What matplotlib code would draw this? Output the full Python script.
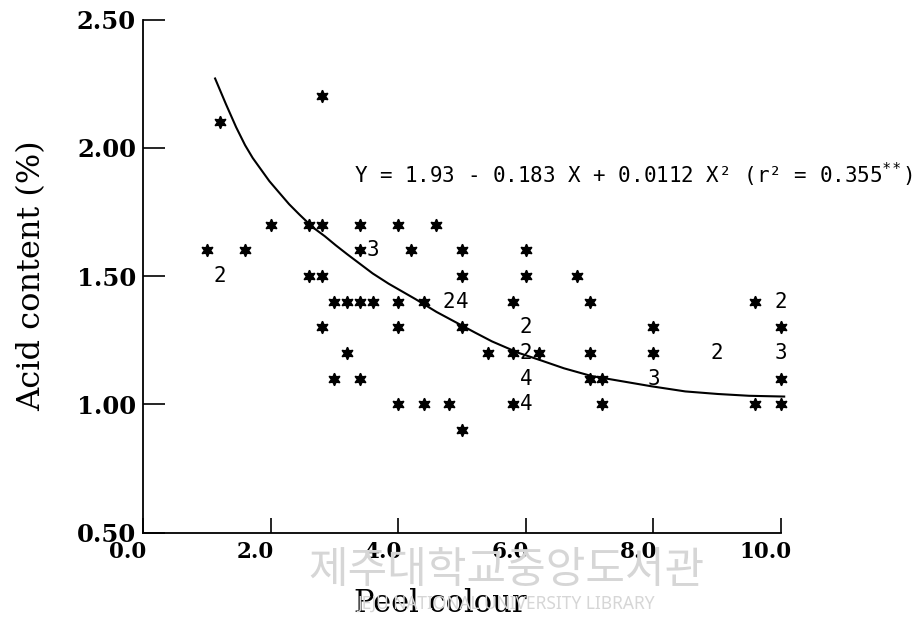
import matplotlib
matplotlib.use("Agg")
import matplotlib.pyplot as plt
import matplotlib.transforms as mtransforms

# single observations (drawn as asterisks)
single_x = [1.0, 1.6, 1.2, 2.8, 2.0, 2.6, 2.8, 3.4, 4.0, 4.6,
            3.4, 4.2, 5.0, 6.0,
            2.6, 2.8, 5.0, 6.0, 6.8,
            3.0, 3.2, 3.4, 3.6, 4.0, 4.4, 5.8, 7.0, 9.6,
            2.8, 4.0, 5.0, 8.0, 10.0,
            3.2, 5.4, 5.8, 6.2, 7.0, 8.0,
            3.0, 3.4, 7.0, 7.2, 10.0,
            4.0, 4.4, 4.8, 5.8, 7.2, 9.6, 10.0,
            5.0]
single_y = [1.6, 1.6, 2.1, 2.2, 1.7, 1.7, 1.7, 1.7, 1.7, 1.7,
            1.6, 1.6, 1.6, 1.6,
            1.5, 1.5, 1.5, 1.5, 1.5,
            1.4, 1.4, 1.4, 1.4, 1.4, 1.4, 1.4, 1.4, 1.4,
            1.3, 1.3, 1.3, 1.3, 1.3,
            1.2, 1.2, 1.2, 1.2, 1.2, 1.2,
            1.1, 1.1, 1.1, 1.1, 1.1,
            1.0, 1.0, 1.0, 1.0, 1.0, 1.0, 1.0,
            0.9]

# repeated observations (drawn as the count)
multi_x = [1.2, 3.6, 4.8, 5.0, 10.0, 6.0, 6.0, 9.0, 10.0, 6.0, 8.0, 6.0]
multi_y = [1.5, 1.6, 1.4, 1.4, 1.4, 1.3, 1.2, 1.2, 1.2, 1.1, 1.1, 1.0]
multi_n = [2, 3, 2, 4, 2, 2, 2, 2, 3, 4, 3, 4]

# fitted curve
curve_x = [1.13, 1.3, 1.46, 1.6, 1.72, 1.85, 1.98, 2.1, 2.29, 2.45, 2.66,
           2.85, 3.02, 3.2, 3.44, 3.6, 3.85, 4.27, 4.6, 4.90, 5.2, 5.47,
           5.89, 6.25, 6.6, 7.03, 7.5, 7.97, 8.5, 9.01, 9.5, 10.05]
curve_y = [2.27, 2.17, 2.08, 2.01, 1.96, 1.915, 1.87, 1.835, 1.78, 1.74, 1.69,
           1.655, 1.62, 1.585, 1.54, 1.51, 1.47, 1.41, 1.36, 1.32, 1.28, 1.245,
           1.20, 1.17, 1.14, 1.11, 1.09, 1.07, 1.05, 1.04, 1.033, 1.03]

xticks = [0, 2, 4, 6, 8, 10]
xtick_labels = ["0.0", "2.0", "4.0", "6.0", "8.0", "10.0"]
yticks = [0.5, 1.0, 1.5, 2.0, 2.5]
ytick_labels = ["0.50", "1.00", "1.50", "2.00", "2.50"]

fig = plt.figure(figsize=(9.17, 6.32), dpi=100)
ax = fig.add_axes([143 / 917, (632 - 532.5) / 632, 638 / 917, 513 / 632])

# library watermark
fig.text(0.552, 0.097, "제주대학교중앙도서관", family="Noto Sans CJK KR",
         fontsize=31, color="#d6d6d6", ha="center", va="center", zorder=0)
fig.text(0.552, 0.045, "JEJU NATIONAL UNIVERSITY LIBRARY", family="Noto Sans",
         fontsize=12.5, color="#d6d6d6", ha="center", va="center", zorder=0)

ax.plot(curve_x, curve_y, color="black", lw=1.5, clip_on=False)
ax.plot(single_x, single_y, linestyle="none", marker=(6, 1, 0), ms=9,
        color="black", clip_on=False)
for x, y, n in zip(multi_x, multi_y, multi_n):
    ax.text(x, y, str(n), family="DejaVu Sans Mono", fontsize=15,
            ha="center", va="center")

ax.text(3.31, 1.893, "Y = 1.93 - 0.183 X + 0.0112 X² (r² = 0.355$^{**}$)",
        family="DejaVu Sans Mono", fontsize=15, ha="left", va="center",
        clip_on=False)

ax.set_xlim(0, 10)
ax.set_ylim(0.5, 2.5)
for s in ["top", "right"]:
    ax.spines[s].set_visible(False)
for s in ["left", "bottom"]:
    ax.spines[s].set_linewidth(1.3)

ax.set_xticks(xticks)
ax.set_xticklabels(xtick_labels, family="DejaVu Serif", fontweight="bold",
                   fontsize=15.5)
ax.set_yticks(yticks)
ax.set_yticklabels(ytick_labels, family="DejaVu Serif", fontweight="bold",
                   fontsize=17.5)
ax.tick_params(axis="y", direction="in", length=16, width=1.2, pad=5)
ax.tick_params(axis="x", direction="in", length=11, width=1.2, pad=6)

offset = mtransforms.ScaledTranslation(-0.15, 0, fig.dpi_scale_trans)
for lab in ax.get_xticklabels():
    lab.set_transform(lab.get_transform() + offset)

ax.set_xlabel("Peel colour", family="DejaVu Serif", fontsize=22)
ax.set_ylabel("Acid content (%)", family="DejaVu Serif", fontsize=23)
ax.xaxis.set_label_coords(0.466, -0.108)
ax.yaxis.set_label_coords(-0.15, 0.5)

fig.savefig("out.png", dpi=100)
